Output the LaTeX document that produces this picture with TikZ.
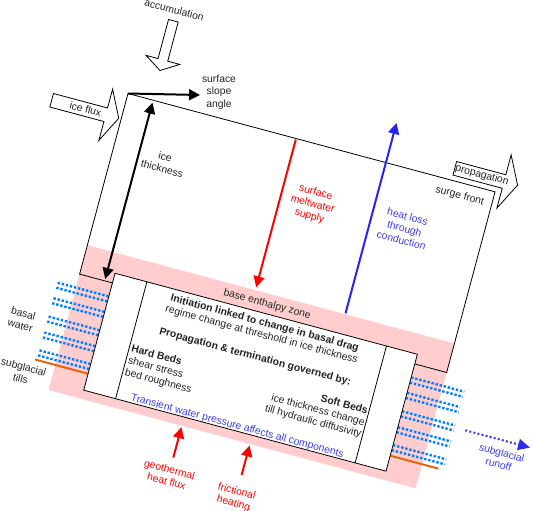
\documentclass[tikz,border=0pt]{standalone}
\usepackage{fontspec}
\usepackage{graphicx}
\setmainfont{Liberation Sans}
\usetikzlibrary{arrows.meta}
\definecolor{pinkz}{RGB}{255,205,205}
\definecolor{myred}{RGB}{255,0,0}
\definecolor{myblue}{RGB}{35,35,255}
\definecolor{dotblue}{RGB}{0,128,255}
\definecolor{tillorange}{RGB}{230,100,10}
\definecolor{txt}{RGB}{35,35,35}
\definecolor{bluetxt}{RGB}{60,60,240}
\definecolor{runoffblue}{RGB}{45,45,235}
\newcommand{\glrot}[1]{\rotatebox[origin=c]{-15}{#1}}
\newcommand{\glc}[1]{\glrot{\begin{tabular}{@{}c@{}}#1\end{tabular}}}
\begin{document}
\begin{tikzpicture}[x=1pt,y=-1pt,
  font=\fontsize{10.35}{12.2}\selectfont, text=txt,
  lbl/.style={inner sep=0pt},
  outline/.style={draw=black, line width=0.8pt},
  blockarrow/.style={draw=black, line width=0.8pt, fill=white, line join=miter},
  thickarrow/.style={line width=2pt, -{Triangle[length=11pt,width=11pt]}},
  dotrow/.style={dotblue, line width=2.4pt, dash pattern=on 2.4pt off 1.8pt},
  tillline/.style={tillorange, line width=2pt}
]
\useasboundingbox (0,0) rectangle (533,511);
\begin{scope}[shift={(128,93.5)}, rotate=-15]
  % base enthalpy zone (pink)
  \fill[pinkz] (0,157) rectangle (380,307);
  % glacier outline
  \draw[outline] (0,0) rectangle (380,187);
  \coordinate (corner) at (0,0);
  % basal water dots
  \foreach \v in {201,206.2,217,222.2,236,241.2,252.5,257.7,271,276.2}{
    \draw[dotrow] (-19,\v) -- (34,\v);
    \draw[dotrow] (347,\v) -- (402,\v);
  }
  % subglacial tills
  \draw[tillline] (-21,281) -- (35,281);
  \draw[tillline] (347,282) -- (397,282);
  % inner box
  \draw[outline, fill=white] (34,177) rectangle (347,298);
  \draw[outline] (67,177) -- (67,298);
  \draw[outline] (315,177) -- (315,298);
  % block arrows
  \draw[blockarrow] (-72,19.3) -- (-16,19.3) -- (-16,-0.2) -- (-2.5,26.3)
     -- (-16,52.8) -- (-16,33.3) -- (-72,33.3) -- cycle;
  \draw[blockarrow] (20,-82) -- (30,-82) -- (30,-41.5) -- (42.5,-41.5)
     -- (25,-30.5) -- (7.5,-41.5) -- (20,-41.5) -- cycle;
  \draw[blockarrow] (335,-19.3) -- (386,-19.3) -- (386,-39.8) -- (400,-12.3)
     -- (386,15.2) -- (386,-5.3) -- (335,-5.3) -- cycle;
  % arrow end points
  \coordinate (thickTop) at (26,2.5);
  \coordinate (thickBot) at (26,185);
  \coordinate (meltTop) at (174,1);
  \coordinate (meltBot) at (174,154);
  \coordinate (heatBot) at (267,156);
  \coordinate (heatTop) at (267,-41);
  \coordinate (geoTail) at (138,340);
  \coordinate (geoTip) at (138,308.5);
  \coordinate (fricTail) at (208.5,339);
  \coordinate (fricTip) at (208.5,308.5);
  \coordinate (runTail) at (413,238);
  \coordinate (runTip) at (480,238);
  % arrows
  \draw[line width=2pt, {Triangle[length=11pt,width=11pt]}-{Triangle[length=11pt,width=11pt]}] (thickTop) -- (thickBot);
  \draw[thickarrow, myred] (meltTop) -- (meltBot);
  \draw[thickarrow, myblue] (heatBot) -- (heatTop);
  \draw[thickarrow, myred] (geoTail) -- (geoTip);
  \draw[thickarrow, myred] (fricTail) -- (fricTip);
  \draw[runoffblue, line width=2pt, dash pattern=on 1.9pt off 2.3pt,
        -{Triangle[length=12pt,width=11pt]}] (runTail) -- (runTip);
  % labels (rotated with graphicx)
  \node[lbl] (accLbl) at (23,-91.5) {\glc{accumulation}};
  \node[lbl] (fluxLbl) at (-37,27.3) {\glc{ice flux}};
  \node[lbl] (thickLbl) at (52.4,59) {\glc{ice\\thickness}};
  \node[lbl, text=myred] (meltLbl) at (207,59.5) {\glc{surface\\meltwater\\supply}};
  \node[lbl, text=bluetxt] (heatLbl) at (302,60) {\glc{heat loss\\through\\conduction}};
  \node[lbl] (surgeLbl) at (347,13.2) {\glc{surge front}};
  \node[lbl] (propLbl) at (363,-12.4) {\glc{propagation}};
  \node[lbl] (enthLbl) at (189,168) {\glc{base enthalpy zone}};
  \node[lbl] (initLbl) at (191.5,187) {\glc{\bfseries Initiation linked to change in basal drag}};
  \node[lbl] (regimeLbl) at (191.5,199) {\glc{regime change at threshold in ice thickness}};
  \node[lbl] (propGovLbl) at (191,222) {\glc{\bfseries Propagation \& termination governed by:}};
  \node[lbl] (hardLbl) at (119.5,258.3) {\glrot{\makebox[100pt][l]{\begin{tabular}{@{}l@{}}\bfseries Hard Beds\\shear stress\\bed roughness\end{tabular}}}};
  \node[lbl] (softLbl) at (248.5,257.3) {\glrot{\makebox[130pt][r]{\begin{tabular}{@{}r@{}}\bfseries Soft Beds\\ice thickness change\\till hydraulic diffusivity\end{tabular}}}};
  \node[lbl, text=bluetxt] (transLbl) at (191.6,293.5) {\glc{Transient water pressure affects all components}};
  \node[lbl] (basalLbl) at (-44,247) {\glc{basal\\water}};
  \node[lbl] (tillLbl) at (-30,298.5) {\glc{subglacial\\tills}};
  \node[lbl, text=bluetxt] (runoffLbl) at (454,257.5) {\glc{subglacial\\runoff}};
  \node[lbl, text=myred] (geoLbl) at (137.5,359.6) {\glc{geothermal\\heat flux}};
  \node[lbl, text=myred] (fricLbl) at (208,363) {\glc{frictional\\heating}};
\end{scope}
% surface slope angle (horizontal)
\coordinate (slopeEnd) at (200,95);
\draw[thickarrow, black] (corner) -- (slopeEnd);
\node[inner sep=0pt, align=center] (slopeLbl) at (219,92.3) {surface\\slope\\angle};
\end{tikzpicture}
\end{document}
